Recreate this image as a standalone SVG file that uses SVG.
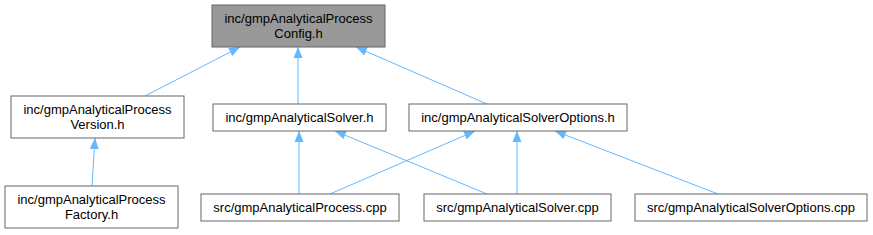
<svg xmlns="http://www.w3.org/2000/svg" width="873" height="235" viewBox="0 0 873 235">
<style>
.box{fill:#ffffff;stroke:#666666;stroke-width:1}
.root{fill:#999999;stroke:#666666;stroke-width:1}
text{font-family:"Liberation Sans",Arial,sans-serif;font-size:13px;fill:#000000;text-anchor:middle}
.edge{stroke:#63b8ff;stroke-width:1;fill:none;marker-end:url(#ah)}
</style>
<defs>
<marker id="ah" viewBox="0 0 11 10" refX="11" refY="5" markerWidth="11" markerHeight="10" markerUnits="userSpaceOnUse" orient="auto">
<path d="M0,0.5 L11,5 L0,9.5 Z" fill="#63b8ff"/>
</marker>
</defs>
<rect width="873" height="235" fill="#ffffff"/>
<g id="edges">
<line class="edge" x2="240" y2="47" x1="145" y1="96"/>
<line class="edge" x2="298" y2="47" x1="298" y1="104"/>
<line class="edge" x2="356" y2="47" x1="487" y1="104"/>
<line class="edge" x2="95" y2="138" x1="92" y1="186"/>
<line class="edge" x2="299" y2="131" x1="299" y1="194"/>
<line class="edge" x2="335" y2="131" x1="487" y1="194"/>
<line class="edge" x2="475" y2="131" x1="330" y1="194"/>
<line class="edge" x2="517" y2="131" x1="517" y1="194"/>
<line class="edge" x2="555" y2="131" x1="718" y1="194"/>
</g>
<g id="config">
<rect class="root" x="212" y="5" width="173" height="42"/>
<text x="298.5" y="23">inc/gmpAnalyticalProcess</text>
<text x="298.5" y="38">Config.h</text>
</g>
<g id="version">
<rect class="box" x="11" y="96" width="173" height="42"/>
<text x="97.5" y="114">inc/gmpAnalyticalProcess</text>
<text x="97.5" y="129">Version.h</text>
</g>
<g id="factory">
<rect class="box" x="5" y="186" width="173" height="42"/>
<text x="91.5" y="204">inc/gmpAnalyticalProcess</text>
<text x="91.5" y="219">Factory.h</text>
</g>
<g id="solverh">
<rect class="box" x="213" y="104" width="173" height="27"/>
<text x="299.5" y="122">inc/gmpAnalyticalSolver.h</text>
</g>
<g id="optionsh">
<rect class="box" x="409" y="104" width="218" height="27"/>
<text x="518" y="122">inc/gmpAnalyticalSolverOptions.h</text>
</g>
<g id="processcpp">
<rect class="box" x="201" y="194" width="198" height="27"/>
<text x="300" y="212">src/gmpAnalyticalProcess.cpp</text>
</g>
<g id="solvercpp">
<rect class="box" x="424" y="194" width="187" height="27"/>
<text x="517.5" y="212">src/gmpAnalyticalSolver.cpp</text>
</g>
<g id="optionscpp">
<rect class="box" x="635" y="194" width="232" height="27"/>
<text x="751" y="212">src/gmpAnalyticalSolverOptions.cpp</text>
</g>
</svg>
